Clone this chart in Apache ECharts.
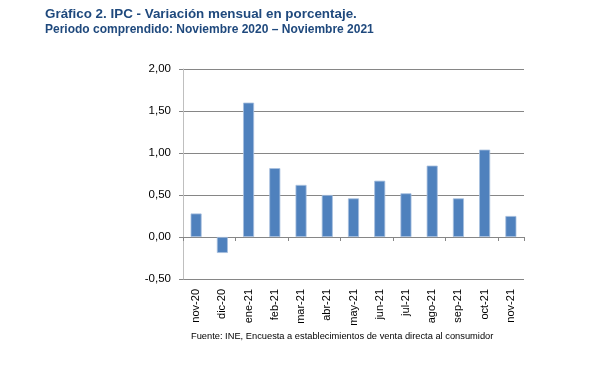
<!DOCTYPE html>
<html><head><meta charset="utf-8">
<script src="https://cdn.jsdelivr.net/npm/echarts@6/dist/echarts.min.js"></script>
<style>html,body{margin:0;padding:0;background:#fff}#c{width:605px;height:371px}</style>
</head><body><div id="c"></div>
<script>
const categories = ['nov-20','dic-20','ene-21','feb-21','mar-21','abr-21','may-21','jun-21','jul-21','ago-21','sep-21','oct-21','nov-21'];
const values = [0.28,-0.19,1.60,0.82,0.62,0.50,0.46,0.67,0.52,0.85,0.46,1.04,0.25];
const yMin = -0.5, yMax = 2, yStep = 0.5;
const chart = echarts.init(document.getElementById('c'));
const gridTop = 69, gridBottom = 92, H = 371;
const plotH = H - gridTop - gridBottom;
const zeroOffset = -plotH * (0 - yMin) / (yMax - yMin);
chart.setOption({
  backgroundColor:'#fff',
  animation:false,
  title:[
    {text:'Gráfico 2. IPC - Variación mensual en porcentaje.',left:40,top:3,padding:5,textStyle:{fontFamily:'Liberation Sans',fontSize:13.4,fontWeight:'bold',color:'#1F497D'}},
    {text:'Periodo comprendido: Noviembre 2020 – Noviembre 2021',left:40,top:19,padding:5,textStyle:{fontFamily:'Liberation Sans',fontSize:12,fontWeight:'bold',color:'#1F497D'}},
    {text:'Fuente: INE, Encuesta a establecimientos de venta directa al consumidor',left:186,top:327,padding:5,textStyle:{fontFamily:'Liberation Sans',fontSize:9.3,fontWeight:'normal',color:'#000'}}
  ],
  grid:{left:183,right:81,top:gridTop,bottom:gridBottom},
  xAxis:[
    {type:'category',data:categories,position:'bottom',axisLine:{show:false,onZero:false},axisTick:{show:false},
     axisLabel:{rotate:90,margin:10,fontFamily:'Liberation Sans',fontSize:11,color:'#000'}},
    {type:'category',data:categories,position:'bottom',offset:zeroOffset,axisLine:{show:true,onZero:false,lineStyle:{color:'#868686',width:1}},
     axisTick:{show:true,length:4,inside:false,lineStyle:{color:'#868686'}},axisLabel:{show:false}}
  ],
  yAxis:{type:'value',min:yMin,max:yMax,interval:yStep,
    axisLine:{show:true,lineStyle:{color:'#BFBFBF'}},
    axisTick:{show:true,length:4,lineStyle:{color:'#868686'}},
    splitLine:{show:true,lineStyle:{color:'#868686',width:1}},
    axisLabel:{margin:12,fontFamily:'Liberation Sans',fontSize:11.5,color:'#000',formatter:v=>v.toFixed(2).replace('.',',')}},
  series:[{type:'bar',data:values,xAxisIndex:0,barWidth:'42%',
    itemStyle:{color:'#4F81BD',borderColor:'#A7BFDE',borderWidth:0.8}}]
});
</script></body></html>
